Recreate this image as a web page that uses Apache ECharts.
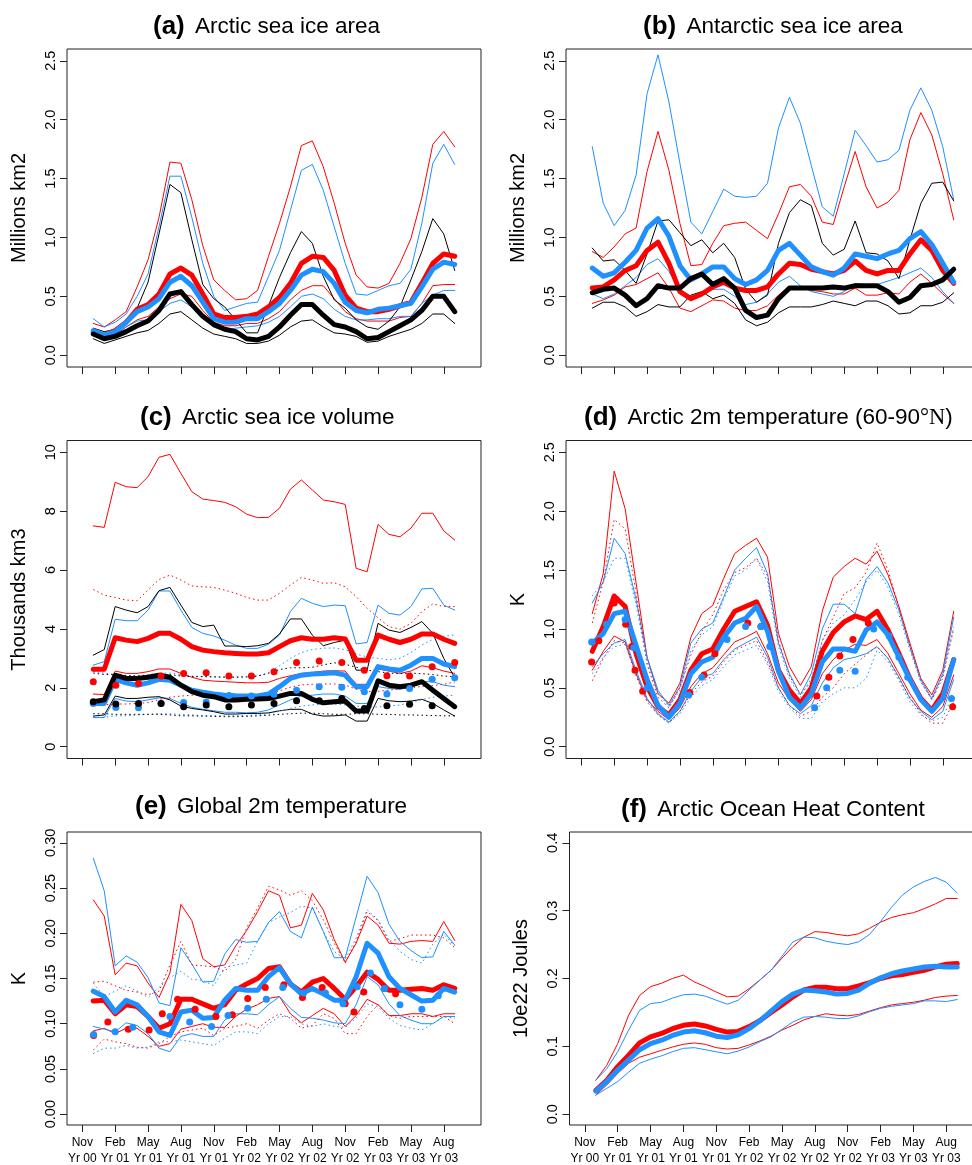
<!DOCTYPE html>
<html><head><meta charset="utf-8">
<script src="https://cdn.jsdelivr.net/npm/echarts@6/dist/echarts.min.js"></script>
<style>html,body{margin:0;padding:0;background:#fff}#c{width:972px;height:1165px}</style>
</head><body><div id="c"></div>
<script>
// months since Nov Yr00 (1 = Dec Yr00 ... 34 = Sep Yr03)
const months = [1,2,3,4,5,6,7,8,9,10,11,12,13,14,15,16,17,18,19,20,21,22,23,24,25,26,27,28,29,30,31,32,33,34];
const tickMonths = [0,3,6,9,12,15,18,21,24,27,30,33];
const tickLabels = ['Nov\nYr 00','Feb\nYr 01','May\nYr 01','Aug\nYr 01','Nov\nYr 01','Feb\nYr 02','May\nYr 02','Aug\nYr 02','Nov\nYr 02','Feb\nYr 03','May\nYr 03','Aug\nYr 03'];
const ticksArea = [0,0.5,1,1.5,2,2.5];
const ticksVol = [0,2,4,6,8,10];
const ticksGlob = [0,0.05,0.1,0.15,0.2,0.25,0.3];
const ticksHeat = [0,0.1,0.2,0.3,0.4];

// (a) Arctic sea ice area
const aRedHi  = [0.27,0.24,0.30,0.37,0.58,0.81,1.17,1.64,1.63,1.32,0.93,0.64,0.55,0.47,0.48,0.55,0.84,1.12,1.43,1.78,1.82,1.60,1.29,0.95,0.68,0.58,0.57,0.61,0.78,0.99,1.34,1.79,1.90,1.77];
const aBlueHi = [0.31,0.24,0.28,0.35,0.50,0.69,1.09,1.52,1.52,1.17,0.78,0.50,0.38,0.41,0.44,0.45,0.67,0.89,1.23,1.57,1.62,1.40,1.09,0.78,0.52,0.51,0.55,0.59,0.61,0.73,1.12,1.63,1.79,1.62];
const aBlackHi= [0.23,0.20,0.22,0.30,0.40,0.62,1.03,1.45,1.38,0.98,0.60,0.48,0.41,0.30,0.19,0.19,0.42,0.66,0.87,1.05,0.95,0.67,0.47,0.40,0.30,0.24,0.22,0.29,0.41,0.64,0.88,1.16,1.03,0.72];
const aRedMean  = [0.20,0.17,0.21,0.28,0.39,0.43,0.52,0.69,0.74,0.68,0.52,0.35,0.32,0.32,0.33,0.35,0.41,0.49,0.61,0.78,0.84,0.83,0.72,0.51,0.40,0.37,0.37,0.39,0.42,0.45,0.61,0.78,0.86,0.84];
const aBlueMean = [0.21,0.17,0.20,0.28,0.37,0.41,0.48,0.62,0.67,0.59,0.45,0.31,0.28,0.28,0.31,0.31,0.37,0.44,0.55,0.68,0.73,0.71,0.61,0.45,0.38,0.36,0.39,0.40,0.42,0.44,0.58,0.73,0.79,0.77];
const aBlackMean= [0.18,0.14,0.16,0.20,0.25,0.29,0.38,0.52,0.54,0.43,0.33,0.26,0.22,0.20,0.14,0.13,0.16,0.24,0.34,0.43,0.43,0.34,0.26,0.24,0.20,0.14,0.15,0.20,0.25,0.30,0.38,0.50,0.50,0.37];
const aRedLo  = [0.17,0.14,0.17,0.24,0.30,0.33,0.41,0.48,0.52,0.50,0.38,0.28,0.25,0.25,0.27,0.27,0.31,0.37,0.47,0.55,0.59,0.59,0.48,0.37,0.31,0.29,0.29,0.29,0.32,0.33,0.44,0.59,0.60,0.60];
const aBlueLo = [0.19,0.15,0.18,0.24,0.29,0.30,0.37,0.44,0.47,0.41,0.33,0.24,0.21,0.23,0.24,0.25,0.28,0.33,0.41,0.50,0.52,0.48,0.39,0.33,0.30,0.30,0.31,0.31,0.33,0.33,0.44,0.51,0.55,0.55];
const aBlackLo= [0.14,0.10,0.13,0.16,0.19,0.21,0.27,0.35,0.37,0.30,0.23,0.18,0.16,0.14,0.10,0.10,0.12,0.17,0.24,0.29,0.30,0.24,0.19,0.18,0.16,0.11,0.12,0.16,0.19,0.22,0.27,0.35,0.35,0.27];

// (b) Antarctic sea ice area
const bBlueHi = [1.77,1.29,1.10,1.23,1.53,2.22,2.55,2.15,1.63,1.13,1.03,1.22,1.41,1.35,1.34,1.35,1.46,1.93,2.19,1.97,1.61,1.26,1.18,1.54,1.91,1.78,1.64,1.66,1.74,2.08,2.27,2.08,1.77,1.32];
const bRedHi  = [0.88,0.83,0.92,1.03,1.08,1.56,1.90,1.57,1.12,0.76,0.77,0.95,1.10,1.12,1.13,1.06,0.99,1.20,1.43,1.45,1.35,1.13,1.11,1.43,1.73,1.43,1.25,1.30,1.40,1.83,2.06,1.87,1.54,1.15];
const bBlackHi= [0.91,0.80,0.81,0.72,0.61,0.86,1.14,1.15,1.04,0.93,0.98,0.87,0.95,0.83,0.56,0.45,0.51,0.95,1.21,1.32,1.27,0.95,0.85,0.90,1.14,0.87,0.86,0.80,0.65,0.98,1.29,1.46,1.47,1.31];
const bRedMean  = [0.57,0.58,0.64,0.72,0.76,0.89,0.96,0.78,0.54,0.48,0.52,0.58,0.62,0.57,0.55,0.55,0.58,0.69,0.78,0.77,0.73,0.71,0.69,0.72,0.80,0.72,0.69,0.72,0.72,0.86,0.98,0.89,0.72,0.61];
const bBlueMean = [0.74,0.67,0.70,0.79,0.89,1.08,1.16,1.01,0.76,0.64,0.69,0.75,0.75,0.65,0.60,0.64,0.72,0.89,0.95,0.85,0.75,0.71,0.68,0.74,0.86,0.84,0.82,0.86,0.89,0.99,1.05,0.94,0.78,0.62];
const bBlackMean= [0.53,0.56,0.57,0.51,0.42,0.48,0.59,0.57,0.57,0.65,0.69,0.60,0.65,0.57,0.38,0.32,0.34,0.48,0.57,0.57,0.57,0.57,0.58,0.57,0.59,0.59,0.59,0.54,0.45,0.49,0.59,0.60,0.64,0.73];
const bRedLo  = [0.44,0.47,0.51,0.58,0.60,0.65,0.70,0.57,0.40,0.37,0.42,0.47,0.46,0.40,0.38,0.38,0.42,0.51,0.58,0.57,0.55,0.54,0.52,0.52,0.57,0.51,0.51,0.53,0.52,0.62,0.69,0.61,0.52,0.44];
const bBlueLo = [0.52,0.48,0.52,0.59,0.66,0.77,0.82,0.71,0.55,0.50,0.52,0.56,0.56,0.50,0.43,0.45,0.52,0.62,0.67,0.59,0.54,0.52,0.50,0.54,0.61,0.60,0.60,0.63,0.66,0.70,0.74,0.66,0.54,0.44];
const bBlackLo= [0.40,0.45,0.45,0.41,0.33,0.37,0.43,0.41,0.41,0.51,0.54,0.48,0.51,0.44,0.30,0.25,0.28,0.36,0.41,0.41,0.41,0.43,0.46,0.44,0.42,0.46,0.46,0.42,0.35,0.36,0.42,0.42,0.45,0.53];

// (c) Arctic sea ice volume
const cRedHi  = [7.50,7.45,8.98,8.83,8.80,9.17,9.83,9.93,9.28,8.66,8.41,8.36,8.30,8.15,7.90,7.78,7.79,8.10,8.75,9.06,8.72,8.38,8.32,8.23,6.06,5.94,7.55,7.21,7.13,7.42,7.93,7.93,7.33,7.02];
const cRedDotHi = [5.34,5.15,5.07,4.98,4.96,5.32,5.68,5.83,5.66,5.46,5.43,5.41,5.32,5.21,5.07,4.98,4.98,5.21,5.49,5.75,5.66,5.55,5.57,5.43,5.10,4.70,4.38,4.08,3.99,4.19,4.59,4.85,4.76,4.76];
const cBlackHi= [3.11,3.30,4.76,4.64,4.55,4.76,5.30,5.41,4.81,4.22,4.08,4.13,3.42,3.42,3.40,3.43,3.51,3.83,4.34,4.34,3.79,3.43,3.54,3.62,2.60,2.60,4.19,3.96,3.88,4.05,4.25,3.85,3.00,2.35];
const cBlueHi = [2.77,2.89,4.33,4.28,4.28,4.64,5.29,5.29,4.64,4.05,3.85,3.76,3.62,3.45,3.34,3.34,3.48,3.79,4.59,5.04,4.87,4.76,4.81,4.79,3.49,3.54,4.81,4.53,4.47,4.76,5.36,5.38,4.81,4.64];
const cRedMean  = [2.63,2.63,3.70,3.62,3.57,3.68,3.85,3.85,3.65,3.40,3.28,3.23,3.19,3.17,3.15,3.15,3.19,3.40,3.60,3.70,3.65,3.65,3.70,3.66,2.94,2.94,3.79,3.65,3.54,3.65,3.83,3.83,3.65,3.51];
const cRedLo  = [1.79,1.77,2.57,2.49,2.49,2.55,2.64,2.64,2.49,2.36,2.26,2.23,2.21,2.19,2.17,2.17,2.19,2.32,2.41,2.49,2.52,2.57,2.58,2.57,2.12,2.12,2.64,2.57,2.49,2.57,2.75,2.68,2.57,2.49];
const cBlueMean = [1.47,1.47,2.29,2.17,2.09,2.17,2.29,2.26,2.09,1.92,1.85,1.79,1.75,1.73,1.72,1.72,1.79,2.04,2.32,2.43,2.47,2.49,2.51,2.43,2.04,2.04,2.72,2.64,2.60,2.77,3.00,3.00,2.81,2.72];
const cBlackMean= [1.53,1.59,2.43,2.32,2.32,2.36,2.43,2.36,2.09,1.87,1.75,1.70,1.59,1.59,1.61,1.62,1.64,1.72,1.81,1.81,1.61,1.49,1.53,1.55,1.21,1.21,2.24,2.09,2.04,2.09,2.21,1.92,1.64,1.36];
const cBlueLo = [0.99,0.99,1.64,1.55,1.53,1.59,1.66,1.64,1.47,1.34,1.27,1.22,1.17,1.17,1.15,1.17,1.25,1.42,1.59,1.72,1.75,1.79,1.79,1.72,1.47,1.47,2.04,1.98,1.95,2.04,2.21,2.21,2.09,2.04];
const cBlackLo= [1.04,1.08,1.72,1.64,1.64,1.68,1.70,1.59,1.38,1.30,1.25,1.19,1.11,1.11,1.13,1.13,1.15,1.22,1.27,1.27,1.11,1.04,1.05,1.08,0.87,0.87,1.64,1.56,1.53,1.55,1.61,1.47,1.25,1.04];
const cRedDotLo = [1.40,1.42,1.45,1.45,1.47,1.50,1.60,1.68,1.72,1.75,1.75,1.75,1.75,1.74,1.74,1.75,1.78,1.90,2.02,2.10,2.12,2.13,2.13,2.10,1.95,1.87,1.88,1.92,1.97,2.00,2.05,2.08,2.12,2.20];
const cBlueDotHi = [2.55,2.50,2.45,2.40,2.40,2.45,2.50,2.50,2.45,2.40,2.38,2.38,2.37,2.37,2.38,2.40,2.50,2.75,3.00,3.20,3.30,3.35,3.35,3.30,3.15,3.05,3.00,2.95,3.00,3.20,3.45,3.65,3.75,3.80];
const cBlueDotLo = [1.00,1.00,1.05,1.05,1.08,1.10,1.12,1.12,1.10,1.08,1.06,1.05,1.05,1.05,1.06,1.08,1.12,1.20,1.30,1.38,1.42,1.45,1.45,1.42,1.38,1.35,1.35,1.38,1.42,1.50,1.60,1.68,1.72,1.75];
const cBlackDotHi = [2.50,2.45,2.45,2.42,2.40,2.42,2.45,2.45,2.40,2.38,2.38,2.37,2.36,2.36,2.37,2.40,2.50,2.62,2.68,2.68,2.70,2.78,2.85,2.80,2.70,2.60,2.55,2.50,2.48,2.50,2.48,2.45,2.40,2.38];
const cBlackDotLo = [1.12,1.12,1.10,1.10,1.10,1.10,1.10,1.08,1.05,1.05,1.04,1.03,1.02,1.02,1.03,1.05,1.07,1.10,1.12,1.14,1.14,1.12,1.10,1.10,1.12,1.12,1.10,1.10,1.08,1.08,1.07,1.06,1.05,1.05];
const cDotX = [1,3.06,5.13,7.19,9.25,11.31,13.38,15.44,17.5,19.56,21.63,23.69,25.75,27.81,29.88,31.94,34];
const cRedDots  = [2.21,2.09,2.15,2.40,2.49,2.51,2.40,2.40,2.55,2.86,2.91,2.86,2.60,2.41,2.40,2.72,2.86];
const cBlueDots = [1.47,1.33,1.32,1.47,1.50,1.52,1.74,1.72,1.78,1.92,2.04,2.02,1.87,1.79,1.98,2.29,2.34];
const cBlackDots= [1.53,1.45,1.47,1.47,1.36,1.42,1.36,1.42,1.47,1.56,1.56,1.64,1.30,1.39,1.44,1.39];

// (d) Arctic 2m temperature
const dRedHi  = [1.13,1.47,2.34,2.02,1.39,0.76,0.45,0.37,0.54,0.93,1.13,1.20,1.43,1.64,1.71,1.77,1.61,0.96,0.68,0.52,0.68,1.15,1.44,1.53,1.60,1.55,1.66,1.46,1.19,0.88,0.58,0.44,0.65,1.15];
const dRedDotHi = [1.05,1.40,1.93,1.85,1.30,0.70,0.42,0.33,0.50,0.78,0.98,1.12,1.33,1.48,1.52,1.60,1.45,0.90,0.60,0.45,0.55,0.90,1.10,1.30,1.35,1.48,1.73,1.50,1.18,0.85,0.55,0.40,0.60,1.00];
const dBlueHi = [1.22,1.40,1.77,1.64,1.25,0.76,0.48,0.35,0.51,0.88,1.00,1.05,1.27,1.50,1.60,1.69,1.47,0.88,0.62,0.44,0.62,1.00,1.21,1.21,1.13,1.42,1.53,1.39,1.16,0.85,0.57,0.41,0.62,1.10];
const dBlueDotHi = [1.28,1.40,1.60,1.60,1.20,0.72,0.46,0.34,0.48,0.82,0.95,1.02,1.25,1.45,1.50,1.60,1.40,0.85,0.58,0.42,0.58,0.90,1.05,1.12,1.25,1.40,1.50,1.35,1.12,0.82,0.55,0.40,0.58,1.02];
const dRedMean  = [0.81,1.02,1.28,1.19,0.79,0.51,0.34,0.27,0.40,0.65,0.79,0.83,1.00,1.15,1.19,1.23,1.03,0.65,0.48,0.37,0.50,0.81,0.97,1.06,1.11,1.08,1.15,0.99,0.79,0.58,0.41,0.31,0.45,0.74];
const dBlueMean = [0.88,0.96,1.13,1.15,0.86,0.57,0.35,0.25,0.37,0.62,0.72,0.76,0.93,1.05,1.09,1.19,0.98,0.64,0.42,0.33,0.45,0.72,0.83,0.83,0.81,0.99,1.06,0.95,0.76,0.57,0.40,0.30,0.41,0.74];
const dRedLo  = [0.65,0.81,0.94,0.89,0.62,0.40,0.30,0.23,0.33,0.51,0.62,0.67,0.78,0.89,0.93,0.98,0.79,0.54,0.40,0.30,0.40,0.62,0.74,0.82,0.87,0.86,0.91,0.79,0.62,0.45,0.31,0.25,0.34,0.61];
const dBlueLo = [0.68,0.79,0.88,0.91,0.65,0.41,0.28,0.21,0.30,0.47,0.59,0.62,0.74,0.83,0.88,0.93,0.76,0.50,0.35,0.28,0.35,0.54,0.67,0.74,0.76,0.79,0.85,0.75,0.59,0.41,0.30,0.23,0.30,0.57];
const dRedDotLo = [0.56,0.75,0.90,0.88,0.60,0.38,0.27,0.20,0.30,0.45,0.55,0.60,0.72,0.82,0.86,0.90,0.72,0.50,0.35,0.26,0.30,0.42,0.50,0.62,0.70,0.78,0.85,0.75,0.58,0.42,0.28,0.20,0.20,0.38];
const dBlueDotLo = [0.62,0.76,0.85,0.87,0.62,0.40,0.27,0.20,0.28,0.42,0.52,0.57,0.68,0.78,0.82,0.86,0.70,0.47,0.33,0.24,0.24,0.38,0.45,0.50,0.50,0.58,0.82,0.72,0.56,0.38,0.27,0.22,0.25,0.45];
const dRedDots  = [[0.94,0.72],[1.6,0.9],[3.0,1.22],[4.05,1.04],[4.6,0.85],[4.9,0.65],[5.6,0.47],[9.9,0.46],[11.2,0.61],[12.2,0.79],[15.2,1.05],[16.4,1.02],[21.5,0.43],[22.6,0.59],[23.6,0.77],[24.8,0.91],[26.2,1.05],[33.9,0.34]];
const dBlueDots = [[0.94,0.89],[2.3,1.04],[4.0,1.08],[4.8,0.84],[6.0,0.5],[9.8,0.44],[11.0,0.59],[13.3,0.91],[15.0,1.02],[16.4,1.02],[17.2,0.85],[21.3,0.33],[22.4,0.5],[23.6,0.65],[25.0,0.64],[26.7,1.0],[28.1,0.94],[29.0,0.76],[29.8,0.59],[33.8,0.41]];

// (e) Global 2m temperature
const eBlueHi = [0.283,0.247,0.164,0.175,0.168,0.151,0.123,0.120,0.184,0.166,0.146,0.147,0.177,0.193,0.190,0.191,0.212,0.224,0.202,0.195,0.229,0.202,0.173,0.173,0.218,0.263,0.245,0.210,0.191,0.181,0.173,0.174,0.202,0.187];
const eRedHi  = [0.237,0.219,0.154,0.167,0.164,0.145,0.129,0.156,0.232,0.214,0.172,0.163,0.165,0.186,0.203,0.224,0.247,0.242,0.206,0.209,0.244,0.226,0.193,0.168,0.189,0.219,0.209,0.189,0.188,0.191,0.192,0.191,0.213,0.192];
const eRedDotHi = [0.146,0.147,0.142,0.137,0.135,0.132,0.136,0.165,0.191,0.165,0.164,0.163,0.158,0.171,0.206,0.228,0.252,0.248,0.242,0.247,0.236,0.215,0.189,0.167,0.191,0.224,0.214,0.191,0.194,0.198,0.198,0.198,0.195,0.184];
const eBlueDotHi = [0.145,0.130,0.136,0.142,0.136,0.129,0.140,0.151,0.158,0.149,0.148,0.142,0.162,0.165,0.167,0.191,0.212,0.218,0.223,0.230,0.228,0.202,0.180,0.171,0.195,0.226,0.215,0.193,0.180,0.171,0.167,0.188,0.199,0.186];
const eRedMean  = [0.125,0.126,0.111,0.121,0.119,0.108,0.095,0.100,0.127,0.127,0.122,0.117,0.121,0.137,0.144,0.150,0.161,0.163,0.144,0.135,0.146,0.150,0.139,0.127,0.141,0.157,0.149,0.137,0.137,0.138,0.139,0.137,0.143,0.139];
const eBlueMean = [0.136,0.130,0.113,0.126,0.121,0.108,0.091,0.087,0.113,0.115,0.106,0.107,0.126,0.139,0.137,0.137,0.152,0.162,0.144,0.133,0.139,0.133,0.126,0.126,0.152,0.189,0.178,0.152,0.139,0.132,0.125,0.126,0.139,0.135];
const eRedLo  = [0.092,0.095,0.089,0.095,0.095,0.086,0.075,0.078,0.094,0.097,0.100,0.096,0.096,0.108,0.116,0.121,0.128,0.130,0.111,0.101,0.109,0.117,0.111,0.097,0.109,0.127,0.121,0.109,0.109,0.111,0.111,0.108,0.111,0.111];
const eBlueLo = [0.097,0.094,0.091,0.101,0.098,0.089,0.073,0.069,0.086,0.089,0.086,0.086,0.104,0.111,0.111,0.110,0.121,0.130,0.117,0.107,0.106,0.104,0.101,0.100,0.121,0.152,0.143,0.122,0.109,0.104,0.100,0.100,0.108,0.108];
const eRedDotLo = [0.071,0.083,0.080,0.078,0.074,0.073,0.078,0.086,0.091,0.093,0.095,0.087,0.095,0.097,0.100,0.095,0.104,0.111,0.106,0.095,0.098,0.111,0.106,0.089,0.089,0.108,0.121,0.109,0.106,0.108,0.108,0.108,0.108,0.100];
const eBlueDotLo = [0.067,0.073,0.073,0.076,0.073,0.074,0.080,0.080,0.082,0.080,0.078,0.076,0.084,0.091,0.091,0.089,0.100,0.108,0.108,0.100,0.097,0.100,0.097,0.096,0.106,0.122,0.119,0.106,0.098,0.095,0.093,0.100,0.108,0.106];
const eRedDots  = [[1.03,0.087],[2.33,0.102],[4.2,0.094],[6.1,0.093],[7.3,0.111],[8.7,0.127],[10.3,0.116],[12.2,0.108],[13.7,0.11],[15.1,0.128],[16.7,0.14],[18.4,0.143],[20.1,0.129],[21.9,0.14],[24.0,0.122],[24.8,0.113],[25.7,0.135],[27.6,0.139],[28.6,0.133]];
const eBlueDots = [[1.03,0.088],[3.0,0.091],[4.6,0.096],[8.0,0.108],[9.8,0.102],[11.8,0.097],[13.3,0.109],[15.1,0.117],[16.8,0.127],[18.3,0.14],[20.2,0.134],[22.2,0.134],[23.8,0.122],[25.1,0.141],[26.3,0.156],[27.6,0.139],[29.0,0.121],[31.0,0.116],[32.5,0.131]];

// (f) Arctic Ocean Heat Content
const fRedHi  = [0.050,0.072,0.104,0.146,0.175,0.188,0.193,0.200,0.205,0.195,0.188,0.180,0.173,0.174,0.185,0.198,0.212,0.230,0.247,0.261,0.269,0.268,0.265,0.263,0.266,0.274,0.283,0.290,0.294,0.297,0.303,0.310,0.318,0.318];
const fBlueHi = [0.050,0.067,0.092,0.124,0.153,0.163,0.165,0.171,0.176,0.177,0.174,0.168,0.162,0.168,0.183,0.198,0.212,0.233,0.254,0.261,0.260,0.255,0.252,0.250,0.254,0.265,0.284,0.305,0.323,0.335,0.343,0.349,0.342,0.326];
const fRedMean  = [0.035,0.050,0.070,0.087,0.105,0.114,0.119,0.126,0.131,0.133,0.130,0.125,0.121,0.122,0.129,0.138,0.150,0.161,0.173,0.183,0.187,0.187,0.185,0.185,0.189,0.194,0.200,0.204,0.206,0.209,0.212,0.217,0.221,0.222];
const fBlueMean = [0.034,0.048,0.065,0.080,0.095,0.104,0.109,0.116,0.121,0.123,0.120,0.115,0.113,0.117,0.126,0.138,0.152,0.166,0.177,0.183,0.182,0.180,0.177,0.178,0.183,0.193,0.201,0.207,0.211,0.214,0.217,0.218,0.217,0.217];
const fRedLo  = [0.028,0.043,0.060,0.075,0.084,0.089,0.094,0.099,0.103,0.105,0.103,0.098,0.096,0.097,0.102,0.108,0.115,0.124,0.131,0.139,0.144,0.148,0.146,0.145,0.147,0.152,0.157,0.161,0.163,0.165,0.168,0.172,0.174,0.175];
const fBlueLo = [0.028,0.038,0.048,0.062,0.075,0.081,0.086,0.092,0.097,0.098,0.095,0.092,0.089,0.093,0.099,0.107,0.114,0.125,0.136,0.143,0.144,0.143,0.141,0.141,0.145,0.151,0.156,0.159,0.161,0.163,0.167,0.167,0.166,0.169];

const RED = '#FF0000', BLUE = '#1E90FF', BLACK = '#000000';
const FONT = 'Liberation Sans, Arial, Helvetica, sans-serif';
const THICK = 5;

const grids = [
  {left: 67, top: 49, width: 414, height: 318},
  {left: 566, top: 49, width: 414, height: 318},
  {left: 67, top: 440.5, width: 414, height: 318},
  {left: 566, top: 440.5, width: 414, height: 318},
  {left: 67, top: 832, width: 414, height: 293},
  {left: 569.5, top: 832, width: 414, height: 293}
].map(g => Object.assign({show: true, borderColor: '#222', borderWidth: 1, backgroundColor: 'transparent', containLabel: false, outerBoundsMode: 'none'}, g));

function xAx(g, labels) {
  return {type: 'value', gridIndex: g, min: -1.4, max: 36.4,
    axisLine: {show: false, onZero: false}, splitLine: {show: false},
    axisTick: {show: true, length: 7, customValues: tickMonths, lineStyle: {color: '#222', width: 1}},
    axisLabel: {show: labels, customValues: tickMonths, formatter: v => tickLabels[tickMonths.indexOf(v)],
      fontSize: 12, lineHeight: 16, color: '#000', fontFamily: FONT, margin: 10}};
}
function yAx(g, min, max, ticks, dec, name) {
  return {type: 'value', gridIndex: g, min: min, max: max,
    axisLine: {show: false, onZero: false}, splitLine: {show: false},
    axisTick: {show: true, length: 7, customValues: ticks, lineStyle: {color: '#222', width: 1}},
    axisLabel: {customValues: ticks, formatter: v => v.toFixed(dec), rotate: 90, fontSize: 14.5, color: '#000', fontFamily: FONT, margin: 9},
    name: name, nameLocation: 'middle', nameGap: 38, nameRotate: 90,
    nameTextStyle: {fontSize: 20, color: '#000', fontFamily: FONT}};
}
function ln(g, vals, color, w, dotted) {
  return {type: 'line', xAxisIndex: g, yAxisIndex: g, data: vals.map((v, i) => [months[i], v]),
    symbol: 'none', showSymbol: false, silent: true, animation: false, z: w > 2 ? 3 : 2,
    lineStyle: {color: color, width: w, type: dotted ? [1.5, 3] : 'solid', join: 'round', cap: dotted ? 'butt' : 'round', opacity: 1}};
}
function dots(g, pts, color) {
  return {type: 'scatter', xAxisIndex: g, yAxisIndex: g, data: pts, symbol: 'circle', symbolSize: 7,
    itemStyle: {color: color, opacity: 1}, silent: true, animation: false, z: 4};
}
const zipX = (xs, ys) => ys.map((y, i) => [xs[i], y]);

const series = [
  // a
  ln(0, aRedHi, RED, 1), ln(0, aRedLo, RED, 1), ln(0, aBlueHi, BLUE, 1), ln(0, aBlueLo, BLUE, 1),
  ln(0, aBlackHi, BLACK, 1), ln(0, aBlackLo, BLACK, 1),
  ln(0, aRedMean, RED, THICK), ln(0, aBlueMean, BLUE, THICK), ln(0, aBlackMean, BLACK, THICK),
  // b
  ln(1, bRedHi, RED, 1), ln(1, bRedLo, RED, 1), ln(1, bBlueHi, BLUE, 1), ln(1, bBlueLo, BLUE, 1),
  ln(1, bBlackHi, BLACK, 1), ln(1, bBlackLo, BLACK, 1),
  ln(1, bRedMean, RED, THICK), ln(1, bBlueMean, BLUE, THICK), ln(1, bBlackMean, BLACK, THICK),
  // c
  ln(2, cRedHi, RED, 1), ln(2, cRedLo, RED, 1), ln(2, cBlueHi, BLUE, 1), ln(2, cBlueLo, BLUE, 1),
  ln(2, cBlackHi, BLACK, 1), ln(2, cBlackLo, BLACK, 1),
  ln(2, cRedDotHi, RED, 1, true), ln(2, cRedDotLo, RED, 1, true), ln(2, cBlueDotHi, BLUE, 1, true), ln(2, cBlueDotLo, BLUE, 1, true),
  ln(2, cBlackDotHi, BLACK, 1, true), ln(2, cBlackDotLo, BLACK, 1, true),
  ln(2, cRedMean, RED, THICK), ln(2, cBlueMean, BLUE, THICK), ln(2, cBlackMean, BLACK, THICK),
  dots(2, zipX(cDotX, cRedDots), RED), dots(2, zipX(cDotX, cBlueDots), BLUE), dots(2, zipX(cDotX, cBlackDots), BLACK),
  // d
  ln(3, dRedHi, RED, 1), ln(3, dRedLo, RED, 1), ln(3, dBlueHi, BLUE, 1), ln(3, dBlueLo, BLUE, 1),
  ln(3, dRedDotHi, RED, 1, true), ln(3, dRedDotLo, RED, 1, true), ln(3, dBlueDotHi, BLUE, 1, true), ln(3, dBlueDotLo, BLUE, 1, true),
  ln(3, dRedMean, RED, THICK), ln(3, dBlueMean, BLUE, THICK),
  dots(3, dRedDots, RED), dots(3, dBlueDots, BLUE),
  // e
  ln(4, eRedHi, RED, 1), ln(4, eRedLo, RED, 1), ln(4, eBlueHi, BLUE, 1), ln(4, eBlueLo, BLUE, 1),
  ln(4, eRedDotHi, RED, 1, true), ln(4, eRedDotLo, RED, 1, true), ln(4, eBlueDotHi, BLUE, 1, true), ln(4, eBlueDotLo, BLUE, 1, true),
  ln(4, eRedMean, RED, THICK), ln(4, eBlueMean, BLUE, THICK),
  dots(4, eRedDots, RED), dots(4, eBlueDots, BLUE),
  // f
  ln(5, fRedHi, RED, 1), ln(5, fRedLo, RED, 1), ln(5, fBlueHi, BLUE, 1), ln(5, fBlueLo, BLUE, 1),
  ln(5, fRedMean, RED, THICK), ln(5, fBlueMean, BLUE, THICK)
];

const richT = {
  b: {fontSize: 26, fontWeight: 'bold', fontFamily: FONT, color: '#000', padding: [0, 4, 0, 0]},
  t: {fontSize: 22.5, fontWeight: 'normal', fontFamily: FONT, color: '#000'},
  s: {fontSize: 22.5, fontWeight: 'normal', fontFamily: 'Liberation Serif, DejaVu Serif, serif', color: '#000'}
};
function ttl(left, top, text) {
  return {left: left, top: top, text: text, padding: 0, textStyle: {fontSize: 22.5, fontWeight: 'normal', fontFamily: FONT, color: '#000', rich: richT}};
}

const option = {
  animation: false,
  backgroundColor: '#ffffff',
  title: [
    ttl(153, 14, '{b|(a)}{t| Arctic sea ice area}'),
    ttl(643, 14, '{b|(b)}{t| Antarctic sea ice area}'),
    ttl(140, 405, '{b|(c)}{t| Arctic sea ice volume}'),
    ttl(584, 405, '{b|(d)}{t| Arctic 2m temperature (60-90}{s|°N}{t|)}'),
    ttl(135, 794, '{b|(e)}{t| Global 2m temperature}'),
    ttl(621, 797, '{b|(f)}{t| Arctic Ocean Heat Content}')
  ],
  grid: grids,
  xAxis: [xAx(0, false), xAx(1, false), xAx(2, false), xAx(3, false), xAx(4, true), xAx(5, true)],
  yAxis: [
    yAx(0, -0.1, 2.6, ticksArea, 1, 'Millions km2'),
    yAx(1, -0.1, 2.6, ticksArea, 1, 'Millions km2'),
    yAx(2, -0.4, 10.4, ticksVol, 0, 'Thousands km3'),
    yAx(3, -0.1, 2.6, ticksArea, 1, 'K'),
    yAx(4, -0.012, 0.312, ticksGlob, 2, 'K'),
    yAx(5, -0.016, 0.416, ticksHeat, 1, '10e22 Joules')
  ],
  series: series
};
const chart = echarts.init(document.getElementById('c'), null, {renderer: 'canvas'});
chart.setOption(option);
</script></body></html>
